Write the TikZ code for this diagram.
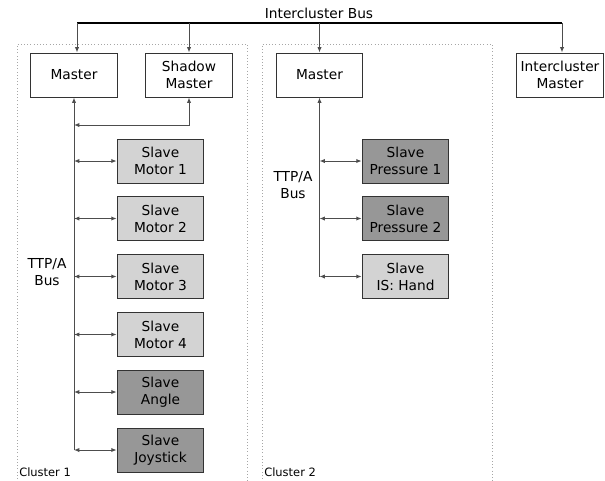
\documentclass[tikz,border=0pt]{standalone}
\usepackage{fontspec}
\setmainfont{DejaVu Sans}
\usetikzlibrary{arrows.meta}

\definecolor{slavelight}{HTML}{D3D3D3}
\definecolor{slavedark}{HTML}{979797}
\definecolor{boxline}{HTML}{333333}
\definecolor{wireline}{HTML}{4D4D4D}

\tikzset{
  unit/.style={draw=boxline, line width=0.75pt, minimum width=65pt,
    minimum height=33pt, align=center, inner sep=1pt,
    font=\fontsize{10.3}{12.75}\selectfont},
  masterbox/.style={unit, fill=white},
  slavebox/.style={unit, fill=slavelight},
  slavedkbox/.style={unit, fill=slavedark},
  wire/.style={draw=wireline, line width=0.75pt,
    >={Latex[length=4pt, width=3.2pt]}},
  icbus/.style={draw=black, line width=1.4pt},
  frame/.style={draw=black!35, line width=0.4pt, dotted},
  smalltext/.style={font=\fontsize{10.3}{12.75}\selectfont, align=center, inner sep=0pt},
  clustertext/.style={font=\fontsize{8.6}{10}\selectfont, anchor=west, inner sep=0pt}
}

\begin{document}
\begin{tikzpicture}[x=0.75pt, y=-0.75pt]
      \useasboundingbox (0,0) rectangle (605,480);

      % cluster frames, open at the bottom
      \draw[frame] (17,485) |- (247,44) -- (247,485);
      \draw[frame] (262,485) |- (492,44) -- (492,485);
      \node[clustertext] (c1lbl) at (19,472) {Cluster 1};
      \node[clustertext] (c2lbl) at (264,472) {Cluster 2};

      % masters
      \node[masterbox] (m1) at (74,75) {Master};
      \node[masterbox] (sm) at (189,75) {Shadow\\Master};
      \node[masterbox] (m2) at (319.5,75) {Master};
      \node[masterbox] (icm) at (560,75) {Intercluster\\Master};

      % slaves of cluster 1
      \node[slavebox] (mot1) at (160.5,161) {Slave\\Motor 1};
      \node[slavebox] (mot2) at (160.5,218.5) {Slave\\Motor 2};
      \node[slavebox] (mot3) at (160.5,276.5) {Slave\\Motor 3};
      \node[slavebox] (mot4) at (160.5,334.5) {Slave\\Motor 4};
      \node[slavedkbox] (ang) at (160.5,392) {Slave\\Angle};
      \node[slavedkbox] (joy) at (160.5,450) {Slave\\Joystick};

      % slaves of cluster 2
      \node[slavedkbox] (pr1) at (405.5,161) {Slave\\Pressure 1};
      \node[slavedkbox] (pr2) at (405.5,218.5) {Slave\\Pressure 2};
      \node[slavebox] (hand) at (405.5,276.5) {Slave\\IS: Hand};

      % intercluster bus
      \node[smalltext] (iblbl) at (319,13) {Intercluster Bus};
      \coordinate (ibl) at (77,23);
      \coordinate (ibr) at (562,23);
      \draw[icbus] (ibl) -- (ibr);
      \draw[wire, ->] (ibl) -- ([xshift=2.25pt]m1.north);
      \draw[wire, ->] (sm.north |- ibl) -- (sm.north);
      \draw[wire, ->] (m2.north |- ibl) -- (m2.north);
      \draw[wire, ->] (ibr) -- ([xshift=1.5pt]icm.north);

      % TTP/A bus of cluster 1
      \node[smalltext] (tb1) at (47,272) {TTP/A\\Bus};
      \draw[wire, ->] (m1.south |- joy.west) -- (m1.south);
      \coordinate (smtap) at (74,125);
      \draw[wire, <->] (smtap) -| (sm.south);
      \foreach \s in {mot1,mot2,mot3,mot4,ang,joy}
        \draw[wire, <->] (m1.south |- \s.west) -- (\s.west);

      % TTP/A bus of cluster 2
      \node[smalltext] (tb2) at (293,185) {TTP/A\\Bus};
      \draw[wire, ->] (m2.south |- hand.west) -- (m2.south);
      \foreach \s in {pr1,pr2,hand}
        \draw[wire, <->] (m2.south |- \s.west) -- (\s.west);
    \end{tikzpicture}
\end{document}
